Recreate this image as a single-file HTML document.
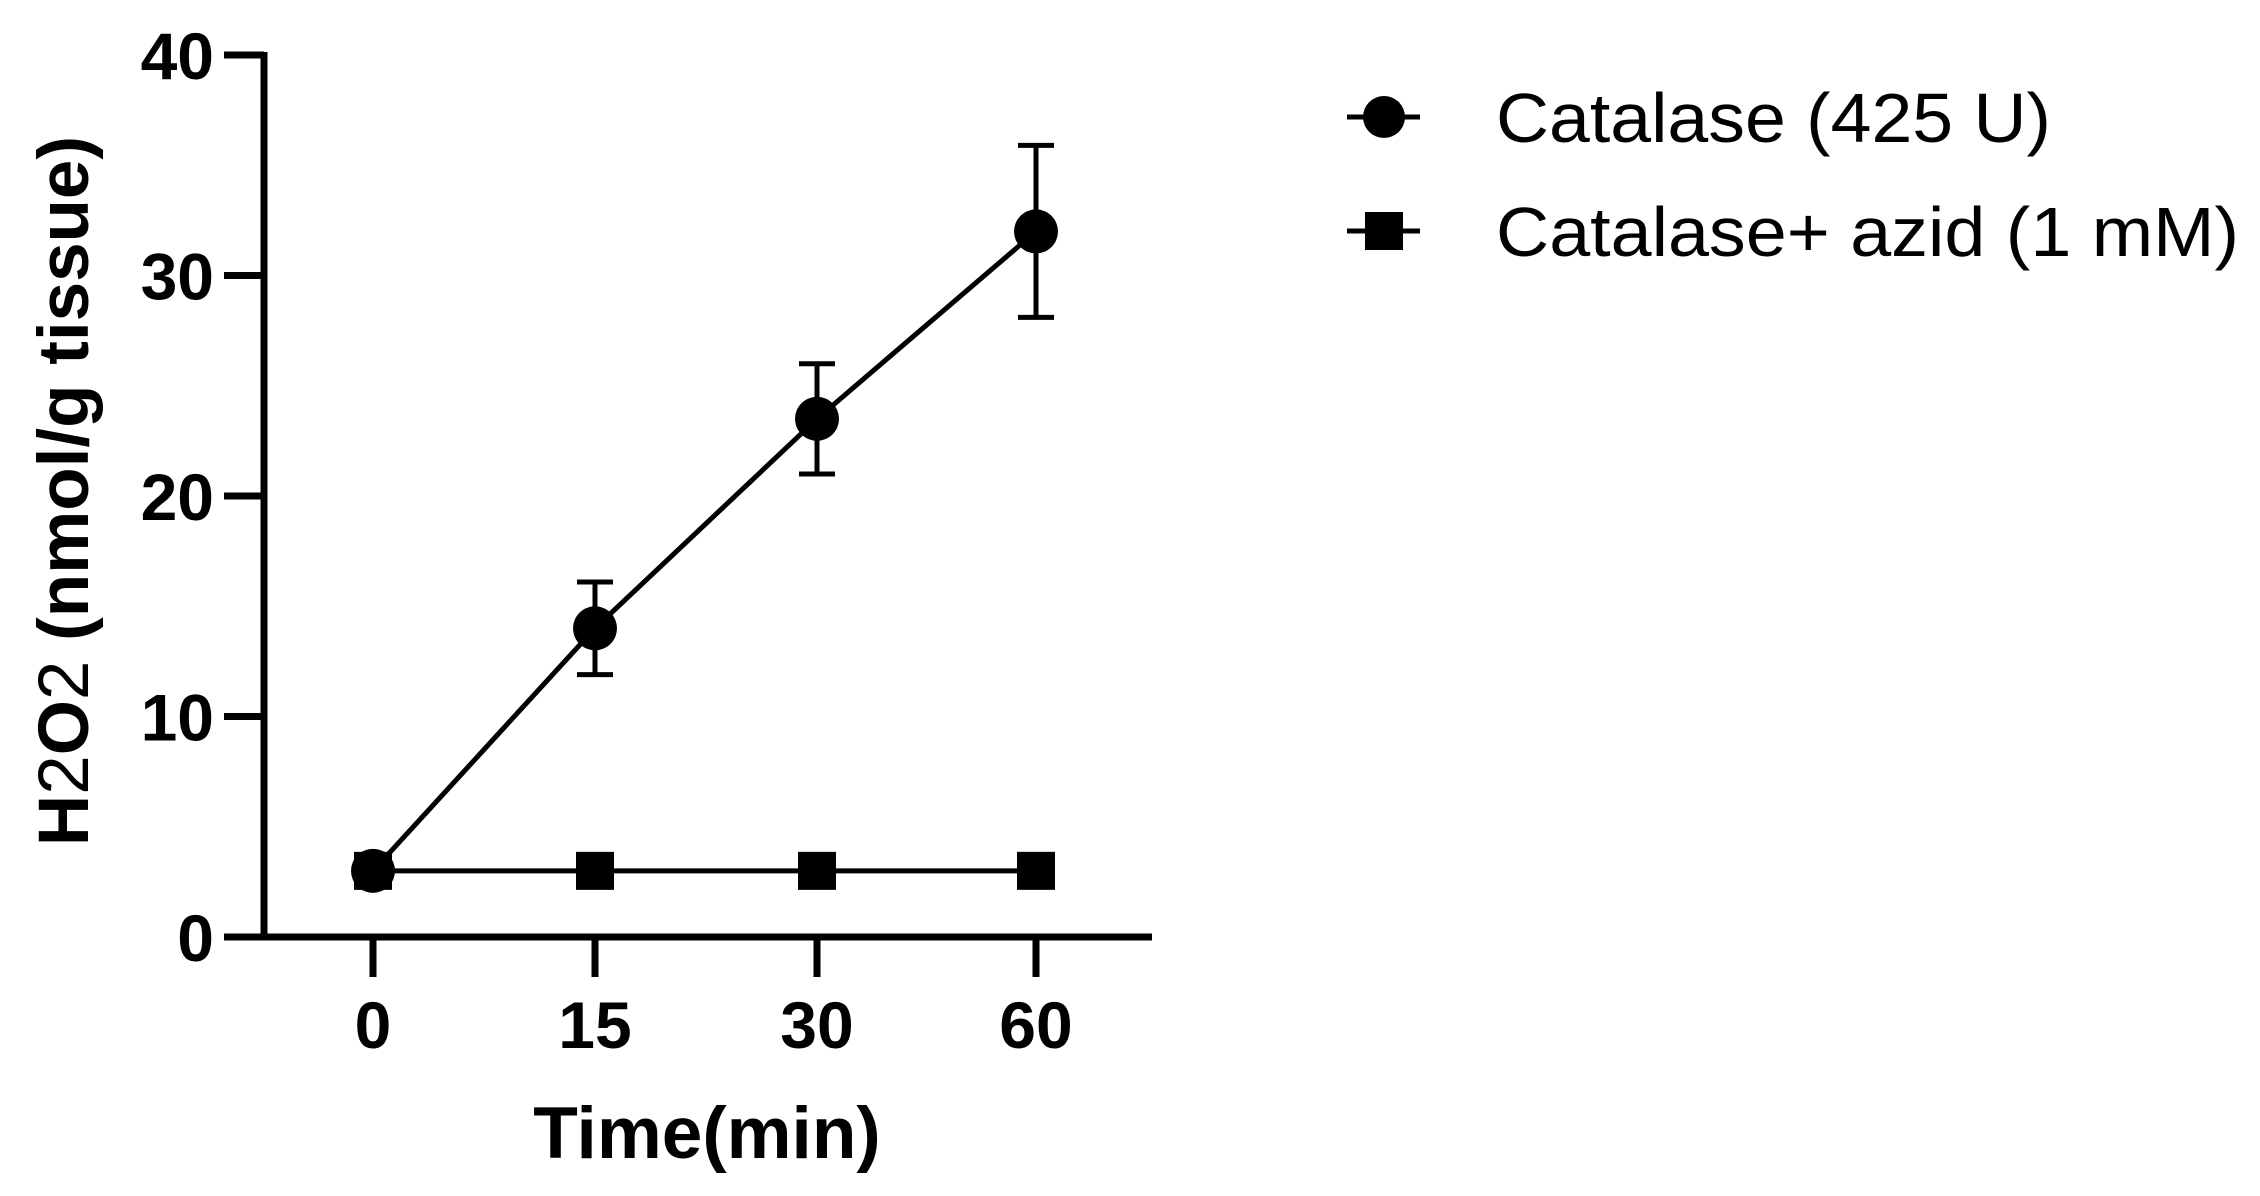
<!DOCTYPE html>
<html><head><meta charset="utf-8"><style>html,body{margin:0;padding:0;background:#fff}svg{display:block}</style></head>
<body>
<svg id="chart" width="2260" height="1196" viewBox="0 0 2260 1196" xmlns="http://www.w3.org/2000/svg" font-family="'Liberation Sans', Arial, sans-serif">
<g id="axes"></g>
<g id="series"></g>
<text x="707" y="1158" font-size="73" font-weight="bold" text-anchor="middle">Time(min)</text>
<text transform="translate(88,491) rotate(-90)" font-size="71" font-weight="bold" text-anchor="middle">H<tspan font-weight="normal">2</tspan>O<tspan font-weight="normal">2</tspan> (nmol/g tissue)</text>
<g>
  <g>
    <line x1="1347" y1="117" x2="1420" y2="117" stroke="#000" stroke-width="5"/>
    <circle cx="1384" cy="117" r="21" fill="#000"/>
    <text x="1496" y="142" font-size="70" textLength="555" lengthAdjust="spacingAndGlyphs">Catalase (425 U)</text>
  </g>
  <g>
    <line x1="1347" y1="231" x2="1420" y2="231" stroke="#000" stroke-width="5"/>
    <rect x="1365" y="212" width="38" height="38" fill="#000"/>
    <text x="1496" y="256" font-size="70" textLength="743" lengthAdjust="spacingAndGlyphs">Catalase+ azid (1 mM)</text>
  </g>
</g>
</svg>
<script>
const categories = ["0","15","30","60"];
const catalase = [3, 14, 23.5, 32];
const catalaseErr = [0, 2.1, 2.5, 3.9];
const azid = [3, 3, 3, 3];
const yTicks = [0,10,20,30,40];

const NS = "http://www.w3.org/2000/svg";
const X0 = 264, Y0 = 937, Ytop = 55, XEND = 1152;
const catX = [373, 595, 817, 1036];
function xPos(i){ return catX[i]; }
function yPos(v){ return Y0 - (Y0 - Ytop) * v / 40; }
function mk(tag, attrs, parent){ const e=document.createElementNS(NS,tag); for(const k in attrs) e.setAttribute(k, attrs[k]); parent.appendChild(e); return e; }

const axes = document.getElementById('axes');
const series = document.getElementById('series');
let el;
el = mk('line',{x1:X0,y1:Ytop-3,x2:X0,y2:Y0+3,stroke:'#000','stroke-width':7},axes);


el = mk('line',{x1:X0-3,y1:Y0,x2:XEND,y2:Y0,stroke:'#000','stroke-width':7},axes);


yTicks.forEach(v=>{
  const y=yPos(v);
  const t=mk('line',{x1:224,y1:y,x2:X0,y2:y,stroke:'#000','stroke-width':7},axes);
  
  
  const l=mk('text',{x:214,y:y+24,'font-size':66,'font-weight':'bold','text-anchor':'end'},axes);
  l.textContent=v;
  
  
});
categories.forEach((c,i)=>{
  const x=xPos(i);
  const t=mk('line',{x1:x,y1:Y0,x2:x,y2:977,stroke:'#000','stroke-width':7},axes);
  
  
  const l=mk('text',{x:x,y:1048,'font-size':66,'font-weight':'bold','text-anchor':'middle'},axes);
  l.textContent=c;
  
  
});
el = mk('polyline',{points:azid.map((v,i)=>xPos(i)+','+yPos(v)).join(' '),fill:'none',stroke:'#000','stroke-width':5},series);


el = mk('polyline',{points:catalase.map((v,i)=>xPos(i)+','+yPos(v)).join(' '),fill:'none',stroke:'#000','stroke-width':5},series);


catalase.forEach((v,i)=>{
  const x=xPos(i), e=catalaseErr[i];
  if(e>0){
    const g=mk('g',{},series);
    
    
    mk('line',{x1:x,y1:yPos(v+e),x2:x,y2:yPos(v-e),stroke:'#000','stroke-width':5},g);
    mk('line',{x1:x-18,y1:yPos(v+e),x2:x+18,y2:yPos(v+e),stroke:'#000','stroke-width':5},g);
    mk('line',{x1:x-18,y1:yPos(v-e),x2:x+18,y2:yPos(v-e),stroke:'#000','stroke-width':5},g);
  }
  const c=mk('circle',{cx:x,cy:yPos(v),r:22,fill:'#000'},series);
  
  
});
azid.forEach((v,i)=>{
  const x=xPos(i);
  const r=mk('rect',{x:x-19,y:yPos(v)-19,width:38,height:38,fill:'#000'},series);
  
  
});
</script>
</body></html>
